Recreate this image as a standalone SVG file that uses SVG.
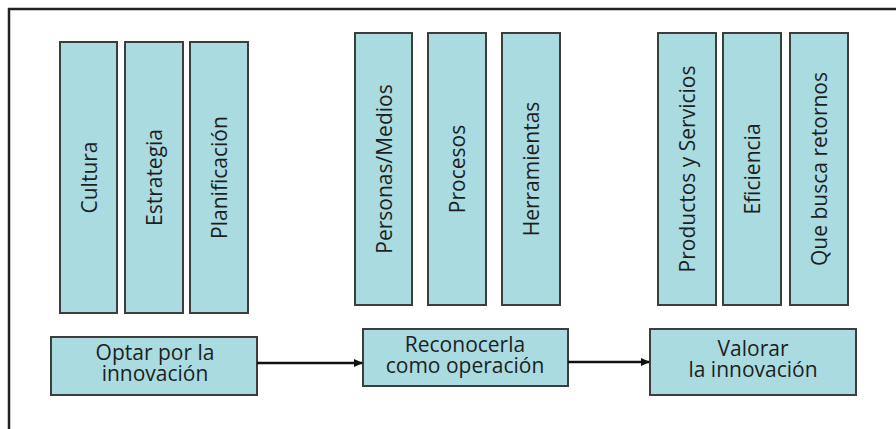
<svg xmlns="http://www.w3.org/2000/svg" width="896" height="429" viewBox="0 0 896 429">
<defs>
<style>
.box{fill:#a9dbe1;stroke:#3d3d3d;stroke-width:2}
.vt{font-family:"Open Sans","Noto Sans",sans-serif;font-size:21px;fill:#1e1e1e;text-anchor:middle;dominant-baseline:central}
.ht{font-family:"Open Sans","Noto Sans",sans-serif;font-size:21px;fill:#1e1e1e;text-anchor:middle}
.conn{stroke:#111;stroke-width:2.5;fill:none}
</style>
<marker id="ah" markerWidth="10" markerHeight="10" refX="8" refY="4" orient="auto" markerUnits="userSpaceOnUse">
<path d="M0,0 L9,4 L0,8 Z" fill="#111"/>
</marker>
</defs>
<rect width="896" height="429" fill="#ffffff"/>
<path d="M9,429 V9 H896" fill="none" stroke="#222" stroke-width="2.5"/>

<g id="cultura"><rect class="box" x="60" y="42" width="57" height="271"/><text class="vt" transform="translate(88.5,177.5) rotate(-90)">Cultura</text></g>
<g id="estrategia"><rect class="box" x="125" y="42" width="58" height="271"/><text class="vt" transform="translate(154,177.5) rotate(-90)">Estrategia</text></g>
<g id="planificacion"><rect class="box" x="190" y="42" width="58" height="271"/><text class="vt" transform="translate(219,177.5) rotate(-90)">Planificación</text></g>

<g id="personas"><rect class="box" x="355" y="33" width="57" height="272"/><text class="vt" transform="translate(383.5,169) rotate(-90)">Personas/Medios</text></g>
<g id="procesos"><rect class="box" x="428" y="33" width="58" height="272"/><text class="vt" transform="translate(457,169) rotate(-90)">Procesos</text></g>
<g id="herramientas"><rect class="box" x="502" y="33" width="58" height="272"/><text class="vt" transform="translate(531,169) rotate(-90)">Herramientas</text></g>

<g id="productos"><rect class="box" x="658" y="33" width="58" height="272"/><text class="vt" transform="translate(687,169) rotate(-90)">Productos y Servicios</text></g>
<g id="eficiencia"><rect class="box" x="723" y="33" width="58" height="272"/><text class="vt" transform="translate(752,169) rotate(-90)">Eficiencia</text></g>
<g id="retornos"><rect class="box" x="790" y="33" width="58" height="272"/><text class="vt" transform="translate(819,169) rotate(-90)">Que busca retornos</text></g>

<g id="optar"><rect class="box" x="51" y="337" width="206" height="58"/><text class="ht" x="155" y="360">Optar por la</text><text class="ht" x="155" y="381">innovación</text></g>
<g id="reconocerla"><rect class="box" x="363" y="329" width="205" height="57"/><text class="ht" x="465" y="352">Reconocerla</text><text class="ht" x="465" y="373">como operación</text></g>
<g id="valorar"><rect class="box" x="650" y="329" width="206" height="66"/><text class="ht" x="753" y="356">Valorar</text><text class="ht" x="753" y="377">la innovación</text></g>

<g id="connectors">
<line class="conn" x1="257" y1="363" x2="362" y2="363" marker-end="url(#ah)"/>
<line class="conn" x1="568" y1="362" x2="649" y2="362" marker-end="url(#ah)"/>
</g>
</svg>
